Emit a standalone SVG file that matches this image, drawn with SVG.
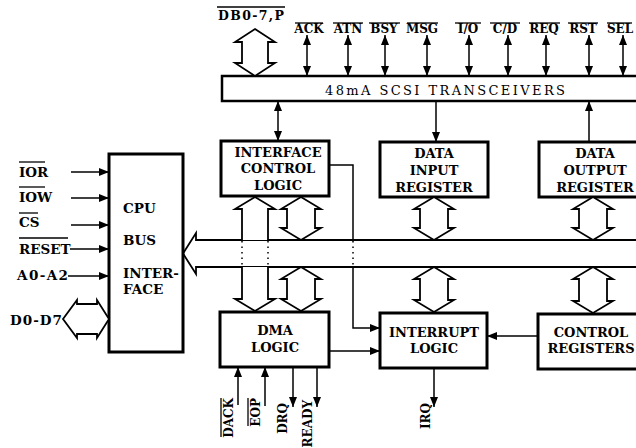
<svg xmlns="http://www.w3.org/2000/svg" width="636" height="448" viewBox="0 0 636 448">
<defs>
<marker id="ah" viewBox="0 0 10 8" refX="10" refY="4" markerWidth="10" markerHeight="8" markerUnits="userSpaceOnUse" orient="auto-start-reverse">
<path d="M0,0 L10,4 L0,8 Z" fill="#000"/>
</marker>
</defs>
<style>
.box{fill:#fff;stroke:#000;stroke-width:3}
.fat{fill:#fff;stroke:#000;stroke-width:1.8;stroke-linejoin:miter}
.ln{fill:none;stroke:#000;stroke-width:1.5}
.dot{fill:none;stroke:#000;stroke-width:1.5;stroke-dasharray:1.5 4}
.t{font-family:"DejaVu Serif","Liberation Serif",serif;font-weight:bold;fill:#000}
.bx{font-size:13px;text-anchor:middle}
.sig{font-size:12px;text-anchor:middle}
.lab{font-size:13.5px}
.rot{font-size:12px;text-anchor:end}
.ov{stroke:#000;stroke-width:1.3}
</style>
<rect width="636" height="448" fill="#fff"/>

<g id="internal-bus">
<path class="fat" stroke-width="2.2" d="M640,240 L196,240 L196,233 L183,253.5 L196,274 L196,267 L640,267"/>
</g>

<g id="scsi-transceivers">
<rect x="222" y="76" width="420" height="25" fill="#fff" stroke="#000" stroke-width="2.5"/>
<text x="325" y="95" font-family="'DejaVu Serif','Liberation Serif',serif" font-size="13" textLength="240" lengthAdjust="spacing">48mA SCSI TRANSCEIVERS</text>
</g>

<g id="cpu-bus-interface">
<rect class="box" x="109" y="154" width="74" height="198"/>
<text class="t lab" x="123" y="213">CPU</text>
<text class="t lab" x="123" y="245">BUS</text>
<text class="t lab" x="123" y="278">INTER-</text>
<text class="t lab" x="123" y="294">FACE</text>
</g>

<g id="interface-control-logic">
<rect class="box" x="221" y="141" width="108" height="55"/>
<text class="t bx" x="278" y="157">INTERFACE</text>
<text class="t bx" x="278" y="173">CONTROL</text>
<text class="t bx" x="278" y="190">LOGIC</text>
</g>

<g id="data-input-register">
<rect class="box" x="380" y="142" width="108" height="55"/>
<text class="t bx" x="434" y="158">DATA</text>
<text class="t bx" x="434" y="175">INPUT</text>
<text class="t bx" x="434" y="192">REGISTER</text>
</g>

<g id="data-output-register">
<rect class="box" x="539" y="142" width="110" height="55"/>
<text class="t bx" x="595" y="158">DATA</text>
<text class="t bx" x="595" y="175">OUTPUT</text>
<text class="t bx" x="595" y="192">REGISTER</text>
</g>

<g id="dma-logic">
<rect class="box" x="220" y="312" width="109" height="55"/>
<text class="t bx" x="275" y="335">DMA</text>
<text class="t bx" x="275" y="352">LOGIC</text>
</g>

<g id="interrupt-logic">
<rect class="box" x="380" y="313" width="107" height="55"/>
<text class="t bx" x="434" y="337">INTERRUPT</text>
<text class="t bx" x="434" y="353">LOGIC</text>
</g>

<g id="control-registers">
<rect class="box" x="538" y="314" width="110" height="55"/>
<text class="t bx" x="591" y="337">CONTROL</text>
<text class="t bx" x="591" y="353">REGISTERS</text>
</g>

<g id="connectors">
<path class="fat" d="M255,29 L275,42 L268,42 L268,63 L275,63 L255,76 L235,63 L242,63 L242,42 L235,42 Z"/>
<line class="ln" x1="307" y1="35" x2="307" y2="76" marker-start="url(#ah)" marker-end="url(#ah)"/>
<line class="ln" x1="348" y1="35" x2="348" y2="76" marker-start="url(#ah)" marker-end="url(#ah)"/>
<line class="ln" x1="385" y1="35" x2="385" y2="76" marker-start="url(#ah)" marker-end="url(#ah)"/>
<line class="ln" x1="427" y1="35" x2="427" y2="76" marker-start="url(#ah)" marker-end="url(#ah)"/>
<line class="ln" x1="469" y1="35" x2="469" y2="76" marker-start="url(#ah)" marker-end="url(#ah)"/>
<line class="ln" x1="508" y1="35" x2="508" y2="76" marker-start="url(#ah)" marker-end="url(#ah)"/>
<line class="ln" x1="546" y1="35" x2="546" y2="76" marker-start="url(#ah)" marker-end="url(#ah)"/>
<line class="ln" x1="589" y1="35" x2="589" y2="76" marker-start="url(#ah)" marker-end="url(#ah)"/>
<line class="ln" x1="623" y1="35" x2="623" y2="76" marker-start="url(#ah)" marker-end="url(#ah)"/>
<line class="ln" x1="278" y1="101" x2="278" y2="141" marker-start="url(#ah)" marker-end="url(#ah)"/>
<line class="ln" x1="436" y1="101" x2="436" y2="142" marker-end="url(#ah)"/>
<line class="ln" x1="589" y1="142" x2="589" y2="101" marker-end="url(#ah)"/>
<path class="fat" d="M242,240 L242,209 L235,209 L255,197 L275,209 L268,209 L268,240"/>
<path class="fat" d="M242,267 L242,299 L235,299 L255,311 L275,299 L268,299 L268,267"/>
<line class="dot" x1="242" y1="241" x2="242" y2="267"/>
<line class="dot" x1="268" y1="241" x2="268" y2="267"/>
<path class="fat" d="M301,197 L321,209 L315,209 L315,228 L321,228 L301,240 L281,228 L287,228 L287,209 L281,209 Z"/>
<path class="fat" d="M301,267 L321,279 L315,279 L315,299 L321,299 L301,311 L281,299 L287,299 L287,279 L281,279 Z"/>
<path class="fat" d="M434,197 L454,209 L448,209 L448,228 L454,228 L434,240 L414,228 L420,228 L420,209 L414,209 Z"/>
<path class="fat" d="M434,267 L454,279 L448,279 L448,300 L454,300 L434,312 L414,300 L420,300 L420,279 L414,279 Z"/>
<path class="fat" d="M593,197 L613,209 L607,209 L607,228 L613,228 L593,240 L573,228 L579,228 L579,209 L573,209 Z"/>
<path class="fat" d="M593,267 L613,279 L607,279 L607,301 L613,301 L593,313 L573,301 L579,301 L579,279 L573,279 Z"/>
<polyline class="ln" points="329,165 353,165 353,240"/>
<line class="dot" x1="353" y1="241" x2="353" y2="267"/>
<polyline class="ln" points="353,267 353,328 380,328" marker-end="url(#ah)"/>
<line class="ln" x1="329" y1="351" x2="380" y2="351" marker-end="url(#ah)"/>
<line class="ln" x1="538" y1="336" x2="487" y2="336" marker-end="url(#ah)"/>
<line class="ln" x1="434" y1="368" x2="434" y2="407" marker-end="url(#ah)"/>
<line class="ln" x1="238" y1="405" x2="238" y2="367" marker-end="url(#ah)"/>
<line class="ln" x1="265" y1="406" x2="265" y2="367" marker-end="url(#ah)"/>
<line class="ln" x1="293" y1="367" x2="293" y2="407" marker-end="url(#ah)"/>
<line class="ln" x1="317" y1="367" x2="317" y2="407" marker-end="url(#ah)"/>
<line class="ln" x1="71" y1="172" x2="109" y2="172" marker-end="url(#ah)"/>
<line class="ln" x1="71" y1="198" x2="109" y2="198" marker-end="url(#ah)"/>
<line class="ln" x1="71" y1="225" x2="109" y2="225" marker-end="url(#ah)"/>
<line class="ln" x1="70" y1="249" x2="109" y2="249" marker-end="url(#ah)"/>
<line class="ln" stroke-width="3" x1="68" y1="276" x2="109" y2="276" marker-end="url(#ah)"/>
<path class="fat" d="M63,319 L77,300 L77,304 L97,304 L97,300 L109,319 L97,338 L97,334 L77,334 L77,338 Z"/>
</g>

<g id="labels">
<text class="t" x="218" y="20" font-size="12.5" textLength="66" lengthAdjust="spacing">DB0-7,P</text>
<line class="ov" x1="217" y1="7" x2="285" y2="7"/>
<text class="t sig" x="309" y="33">ACK</text>
<text class="t sig" x="348" y="33">ATN</text>
<text class="t sig" x="384" y="33">BSY</text>
<text class="t sig" x="422" y="33">MSG</text>
<text class="t sig" x="468" y="33">I/O</text>
<text class="t sig" x="505" y="33">C/D</text>
<text class="t sig" x="544" y="33">REQ</text>
<text class="t sig" x="583" y="33">RST</text>
<text class="t sig" x="620" y="33">SEL</text>
<line class="ov" x1="295" y1="23" x2="323" y2="23"/>
<line class="ov" x1="333" y1="23" x2="363" y2="23"/>
<line class="ov" x1="369" y1="23" x2="400" y2="23"/>
<line class="ov" x1="407" y1="23" x2="438" y2="23"/>
<line class="ov" x1="455" y1="23" x2="481" y2="23"/>
<line class="ov" x1="490" y1="23" x2="520" y2="23"/>
<line class="ov" x1="529" y1="23" x2="560" y2="23"/>
<line class="ov" x1="568" y1="23" x2="598" y2="23"/>
<line class="ov" x1="607" y1="23" x2="632" y2="23"/>

<text class="t lab" x="19" y="177">IOR</text>
<text class="t lab" x="19" y="202">IOW</text>
<text class="t lab" x="19" y="227">CS</text>
<text class="t lab" x="19" y="254">RESET</text>
<text class="t lab" x="17" y="280" textLength="51" lengthAdjust="spacing">A0-A2</text>
<text class="t lab" x="10" y="325" textLength="52" lengthAdjust="spacing">D0-D7</text>
<line class="ov" x1="19" y1="162" x2="45" y2="162"/>
<line class="ov" x1="19" y1="187" x2="45" y2="187"/>
<line class="ov" x1="19" y1="213" x2="38" y2="213"/>
<line class="ov" x1="19" y1="238" x2="68" y2="238"/>

<text class="t rot" transform="translate(233,398) rotate(-90)">DACK</text>
<text class="t rot" transform="translate(260,398) rotate(-90)">EOP</text>
<text class="t rot" transform="translate(287,403) rotate(-90)">DRQ</text>
<text class="t rot" transform="translate(312,400) rotate(-90)" font-size="11">READY</text>
<text class="t rot" transform="translate(430,403) rotate(-90)">IRQ</text>
<line class="ov" x1="221" y1="398" x2="221" y2="437"/>
<line class="ov" x1="248" y1="398" x2="248" y2="426"/>
</g>
</svg>
